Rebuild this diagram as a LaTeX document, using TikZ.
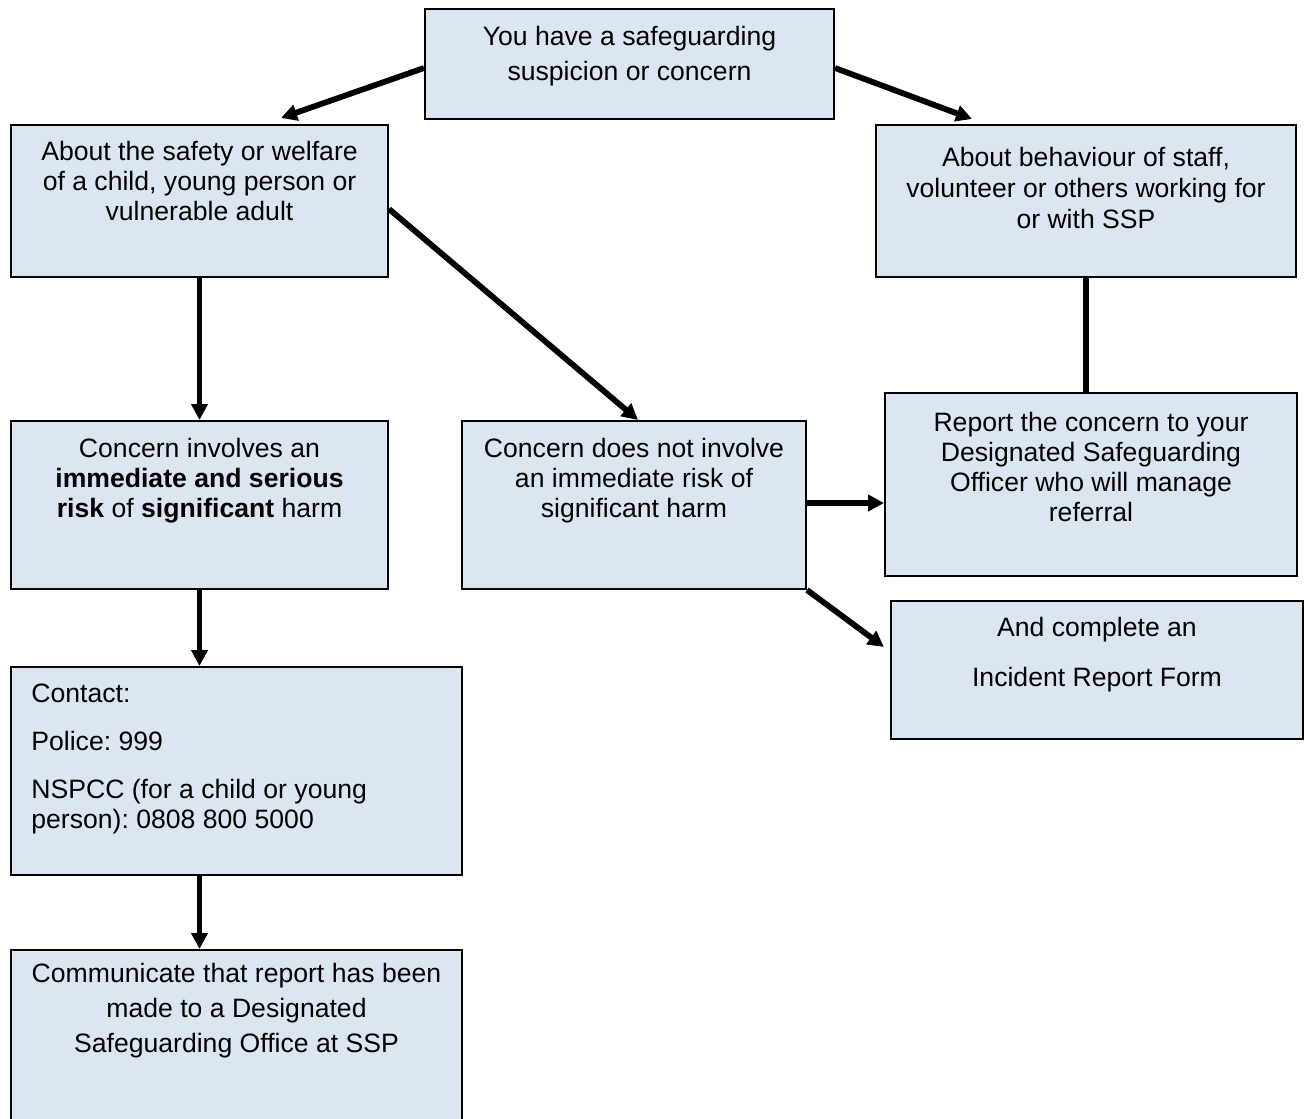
\documentclass[tikz,border=0pt]{standalone}
\usepackage{fontspec}
\setmainfont{Liberation Sans}
\frenchspacing
\usetikzlibrary{arrows.meta}
\definecolor{boxfill}{HTML}{DCE6F2}
\tikzset{
  box/.style={draw=black, line width=1pt, fill=boxfill, rectangle, inner sep=0pt},
  txt/.style={inner sep=0pt, anchor=north, align=center, font=\fontsize{13.3}{15}\selectfont},
  arr/.style={line width=2.9pt, -{Triangle[length=8pt,width=8pt]}},
  plainline/.style={line width=2.9pt}
}
\begin{document}
\begin{tikzpicture}[x=0.5pt,y=-0.5pt]
\useasboundingbox (0,0) rectangle (1308,1119);
\clip (0,0) rectangle (1308,1119);
% boxes
\node[box, minimum width=204.5pt, minimum height=55pt] (top) at (629.5,64) {};
\node[box, minimum width=188.5pt, minimum height=76pt] (L1) at (199.5,201) {};
\node[box, minimum width=210pt, minimum height=76pt] (R1) at (1086,201) {};
\node[box, minimum width=188.5pt, minimum height=84pt] (L2) at (199.5,505) {};
\node[box, minimum width=172pt, minimum height=84pt] (M2) at (634,505) {};
\node[box, minimum width=206pt, minimum height=91.5pt] (R2) at (1091,484.5) {};
\node[box, minimum width=206pt, minimum height=69pt] (R3) at (1097,670) {};
\node[box, minimum width=225.5pt, minimum height=104pt] (L3) at (236.5,771) {};
\node[box, minimum width=225.5pt, minimum height=87.5pt] (L4) at (236.5,1037.5) {};
% texts
\node[txt, font=\fontsize{13.3}{17.5}\selectfont] (ttop) at (629.5,26) {You have a safeguarding\\suspicion or concern};
\node[txt] (tL1) at (199.5,141) {About the safety or welfare\\of a child, young person or\\vulnerable adult};
\node[txt, font=\fontsize{13.3}{15.5}\selectfont] (tR1) at (1086,147) {About behaviour of staff,\\volunteer or others working for\\or with SSP};
\node[txt] (tL2) at (199.5,438) {Concern involves an\\\textbf{immediate and serious}\\\textbf{risk} of \textbf{significant} harm};
\node[txt] (tM2) at (634,438) {Concern does not involve\\an immediate risk of\\significant harm};
\node[txt] (tR2) at (1091,412) {Report the concern to your\\Designated Safeguarding\\Officer who will manage\\referral};
\node[txt] (tR3) at (1097,617) {And complete an\\[10pt]Incident Report Form};
\node[txt, anchor=north west, align=left] (tL3) at (31,684) {Contact:\\[9pt]Police: 999\\[9pt]NSPCC (for a child or young\\person): 0808 800 5000};
\node[txt, font=\fontsize{13.3}{17.5}\selectfont] (tL4) at (236.5,963) {Communicate that report has been\\made to a Designated\\Safeguarding Office at SSP};
% connectors
\draw[arr] ([yshift=-2pt]top.west) -- ([xshift=40.75pt,yshift=3pt]L1.north);
\draw[arr] ([yshift=-2pt]top.east) -- ([xshift=-57pt,yshift=2.5pt]R1.north);
\draw[arr] (L1.south) -- (L2.north);
\draw[arr] ([yshift=-4pt]L1.east) -- ([xshift=2pt]M2.north);
\draw[plainline] (R1.south) -- (R1.south |- R2.north);
\draw[arr] ([yshift=1pt]M2.east) -- ([yshift=1pt]M2.east -| R2.west);
\draw[arr] (M2.south east) -- ([xshift=-3pt,yshift=11.5pt]R3.west);
\draw[arr] (L2.south) -- (L2.south |- L3.north);
\draw[arr] (L3.south -| L2.south) -- (L4.north -| L2.south);
\end{tikzpicture}
\end{document}
